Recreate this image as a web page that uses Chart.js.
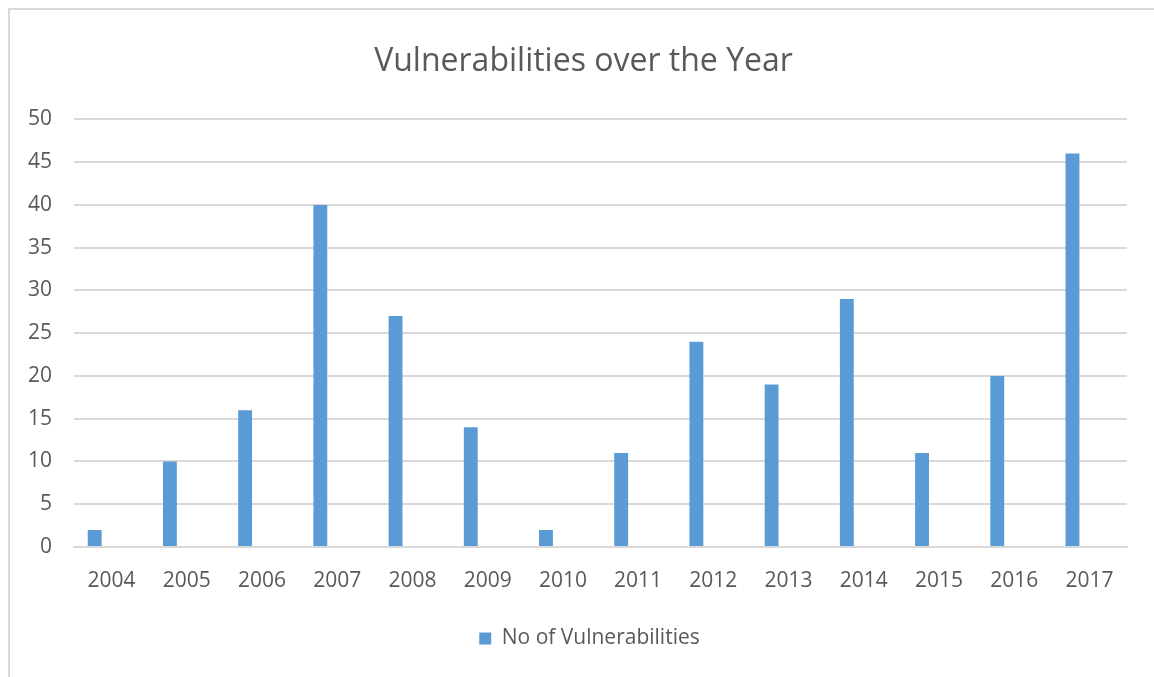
<!DOCTYPE html>
<html lang="en">
<head>
    <meta charset="UTF-8">
    <title>Vulnerabilities over the Year</title>
    <script src="https://cdn.jsdelivr.net/npm/chart.js"></script>
    <style>
        html, body { margin: 0; padding: 0; background: #fff; }
        .frame {
            position: absolute; left: 0; top: 0; width: 1154px; height: 677px;
        }
        .frame::before {
            content: ''; position: absolute; left: 8px; top: 8px; right: 0; bottom: 0;
            border-top: 2px solid #d9d9d9; border-left: 2px solid #d9d9d9;
        }
        canvas { position: absolute; left: 0; top: 0; }
    </style>
</head>
<body>
    <div class="frame">
        <canvas id="chart" width="1154" height="677"></canvas>
    </div>

    <script>
        // data
        const years = ['2004', '2005', '2006', '2007', '2008', '2009', '2010',
                       '2011', '2012', '2013', '2014', '2015', '2016', '2017'];
        const vulnerabilities = [2, 10, 16, 40, 27, 14, 2, 11, 24, 19, 29, 11, 20, 46];
        // empty second series: the original chart leaves a slot next to each bar
        const emptySeries = years.map(() => null);
        const yTicks = [0, 5, 10, 15, 20, 25, 30, 35, 40, 45, 50];

        const grey = '#595959';
        const gridColor = '#d9d9d9';

        // title and legend are centred on the whole frame, not just the plot
        const recentre = {
            id: 'recentre',
            afterLayout(chart) {
                chart.titleBlock.left += 30;
                chart.legend.left += 42;
            }
        };

        new Chart(document.getElementById('chart'), {
            type: 'bar',
            data: {
                labels: years,
                datasets: [
                    {
                        label: 'No of Vulnerabilities',
                        data: vulnerabilities,
                        backgroundColor: '#5b9bd5',
                        categoryPercentage: 0.9,
                        barPercentage: 0.41
                    },
                    {
                        label: '',
                        data: emptySeries,
                        backgroundColor: 'rgba(0,0,0,0)',
                        categoryPercentage: 0.9,
                        barPercentage: 0.41
                    }
                ]
            },
            options: {
                responsive: false,
                animation: false,
                layout: { padding: { left: 10, right: 27, top: 10, bottom: 18 } },
                plugins: {
                    title: {
                        display: true,
                        text: 'Vulnerabilities over the Year',
                        color: grey,
                        font: { family: 'Open Sans', size: 32, weight: 'normal', lineHeight: 1.2 },
                        padding: { top: 33, bottom: 38 }
                    },
                    legend: {
                        position: 'bottom',
                        labels: {
                            color: grey,
                            font: { family: 'Open Sans', size: 21 },
                            boxWidth: 12,
                            boxHeight: 12,
                            filter: item => item.text !== ''
                        }
                    },
                    tooltip: { enabled: false }
                },
                scales: {
                    x: {
                        grid: { display: false, drawTicks: false },
                        border: { display: true, color: gridColor, width: 2 },
                        ticks: {
                            color: grey,
                            font: { family: 'Open Sans', size: 21 },
                            padding: 21,
                            maxRotation: 0
                        },
                        afterFit: scale => { scale.height = 71; }
                    },
                    y: {
                        min: 0,
                        max: 50,
                        afterBuildTicks: scale => { scale.ticks = yTicks.map(v => ({ value: v })); },
                        grid: { color: gridColor, lineWidth: 2, drawTicks: false },
                        border: { display: false },
                        ticks: {
                            color: grey,
                            font: { family: 'Open Sans', size: 21 },
                            padding: 22
                        },
                        afterFit: scale => { scale.width = 64; }
                    }
                }
            },
            plugins: [recentre]
        });
    </script>
</body>
</html>
